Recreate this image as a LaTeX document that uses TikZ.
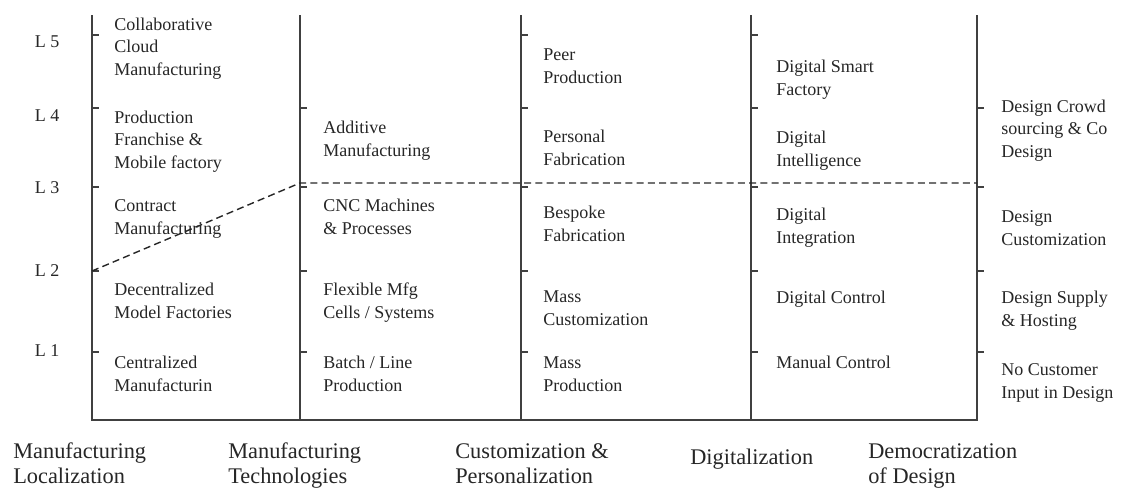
\documentclass[tikz,border=0pt]{standalone}
\usepackage{fontspec}
\setmainfont{Liberation Serif}
\usepackage{tikz}
\usetikzlibrary{positioning, calc}

\tikzset{
    axis/.style={line width=1.2pt, black!75},
    lvl/.style={font=\fontsize{12.8}{16}\selectfont, text=black!85, anchor=base, inner sep=0pt},
    item/.style={font=\fontsize{12.8}{16}\selectfont, text=black!85, align=left, anchor=base west, inner sep=0pt},
    cat/.style={font=\fontsize{15.9}{17.7}\selectfont, text=black!85, align=left, anchor=base west, inner sep=0pt}
}

\begin{document}
\begin{tikzpicture}[x=0.025cm, y=-0.025cm]
    \useasboundingbox (0,0) rectangle (1121,488);
    % Axes
    \draw[axis] (92,15) -- (92,420) -- (977,420) -- (977,15);
    \foreach \x in {300,521,751}
        \draw[axis] (\x,15) -- (\x,420);
    % Ticks
    \foreach \x/\ys in {92/{35,108,187,271,352}, 300/{108,187,271,352}, 521/{35,108,187,271,352}, 751/{35,108,187,271,352}, 977/{108,187,271,352}}
        \foreach \y in \ys
            \draw[axis] (\x,\y) -- ++(7,0);
    % Levels
    \foreach \n/\y in {1/356,2/276,3/193,4/121,5/47}
        \node[lvl] (L\n) at (47,\y) {L \n};
    % Localization (anchored at last baseline)
    \node[item] (cloud) at (114,75) {Collaborative\\Cloud\\Manufacturing};
    \node[item] (franchise) at (114,168) {Production\\Franchise \&\\Mobile factory};
    \node[item] (contract) at (114,234) {Contract\\Manufacturing};
    \node[item] (decentral) at (114,318) {Decentralized\\Model Factories};
    \node[item] (central) at (114,391) {Centralized\\Manufacturin};
    % Technologies
    \node[item] (additive) at (323,156) {Additive\\Manufacturing};
    \node[item] (cnc) at (323,234) {CNC Machines\\\& Processes};
    \node[item] (flexible) at (323,318) {Flexible Mfg\\Cells / Systems};
    \node[item] (batch) at (323,391) {Batch / Line\\Production};
    % Personalization
    \node[item] (peer) at (543,83) {Peer\\Production};
    \node[item] (personal) at (543,165) {Personal\\Fabrication};
    \node[item] (bespoke) at (543,241) {Bespoke\\Fabrication};
    \node[item] (masscust) at (543,325) {Mass\\Customization};
    \node[item] (massprod) at (543,391) {Mass\\Production};
    % Digitalization
    \node[item] (smart) at (776,95) {Digital Smart\\Factory};
    \node[item] (intel) at (776,166) {Digital\\Intelligence};
    \node[item] (integ) at (776,243) {Digital\\Integration};
    \node[item] (dctrl) at (776,303) {Digital Control};
    \node[item] (mctrl) at (776,368) {Manual Control};
    % Design
    \node[item] (crowd) at (1001,157) {Design Crowd\\sourcing \& Co\\Design};
    \node[item] (dcust) at (1001,245) {Design\\Customization};
    \node[item] (supply) at (1001,326) {Design Supply\\\& Hosting};
    \node[item] (nocust) at (1001,398) {No Customer\\Input in Design};
    % Categories
    \node[cat] (localization) at (13,483) {Manufacturing\\Localization};
    \node[cat] (technologies) at (228,483) {Manufacturing\\Technologies};
    \node[cat] (personalization) at (455,483) {Customization \&\\Personalization};
    \node[cat] (digitalization) at (690,464) {Digitalization};
    \node[cat] (democratization) at (868,483) {Democratization\\of Design};
    % Threshold
    \coordinate (t1) at (92,271);
    \coordinate (t2) at (300,183);
    \coordinate (t3) at (977,183);
    \draw[dashed, dash pattern=on 5pt off 3pt, line width=1pt, black!85] (t1) -- (t2) -- (t3);
\end{tikzpicture}
\end{document}
